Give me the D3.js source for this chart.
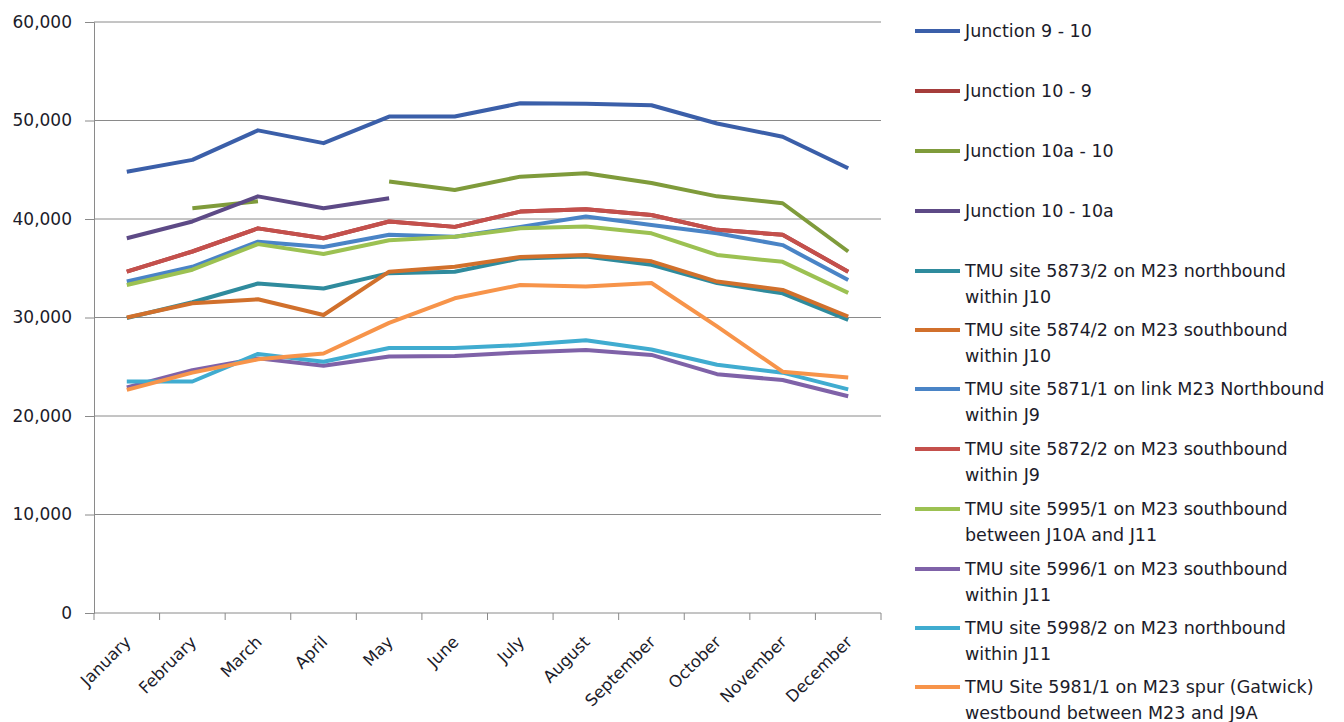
<!DOCTYPE html>
<html>
<head>
<meta charset="utf-8">
<script src="https://cdn.jsdelivr.net/npm/d3@7"></script>
<style>
  html, body { margin: 0; padding: 0; background: #ffffff; }
  svg { display: block; font-family: "DejaVu Sans", "Liberation Sans", Arial, sans-serif; }
</style>
</head>
<body>
<svg id="chart" width="1344" height="722"></svg>
<script>
// Monthly traffic counts around the M23 junctions
const months = ["January", "February", "March", "April", "May", "June",
  "July", "August", "September", "October", "November", "December"];

const yTicks = [0, 10000, 20000, 30000, 40000, 50000, 60000];

const seriesNames = [
  "Junction 9 - 10",
  "Junction 10 - 9",
  "Junction 10a - 10",
  "Junction 10 - 10a",
  "TMU site 5873/2 on M23 northbound within J10",
  "TMU site 5874/2 on M23 southbound within J10",
  "TMU site 5871/1 on link M23 Northbound within J9",
  "TMU site 5872/2 on M23 southbound within J9",
  "TMU site 5995/1 on M23 southbound between J10A and J11",
  "TMU site 5996/1 on M23 southbound within J11",
  "TMU site 5998/2 on M23 northbound within J11",
  "TMU Site 5981/1 on M23 spur (Gatwick) westbound between M23 and J9A"
];

// Legend labels wrap onto two lines
const legendLines = [
  ["Junction 9 - 10"],
  ["Junction 10 - 9"],
  ["Junction 10a - 10"],
  ["Junction 10 - 10a"],
  ["TMU site 5873/2 on M23 northbound", "within J10"],
  ["TMU site 5874/2 on M23 southbound", "within J10"],
  ["TMU site 5871/1 on link M23 Northbound", "within J9"],
  ["TMU site 5872/2 on M23 southbound", "within J9"],
  ["TMU site 5995/1 on M23 southbound", "between J10A and J11"],
  ["TMU site 5996/1 on M23 southbound", "within J11"],
  ["TMU site 5998/2 on M23 northbound", "within J11"],
  ["TMU Site 5981/1 on M23 spur (Gatwick)", "westbound between M23 and J9A"]
];

const seriesColors = ["#3b5fa9", "#a53d3b", "#7f9b3b", "#5d4a86", "#2f8b9d", "#d1702c",
  "#4a84c6", "#c4504c", "#9cc152", "#7f62a8", "#40acd0", "#f7944a"];

const j9to10   = [44800, 46000, 49000, 47700, 50400, 50400, 51750, 51700, 51550, 49700, 48350, 45150];
const j10to9   = [34650, 36700, 39050, 38050, 39750, 39200, 40750, 41000, 40400, 38900, 38400, 34650];
const j10ato10 = [null, 41100, 41800, null, 43800, 42950, 44300, 44650, 43650, 42300, 41600, 36700];
const j10to10a = [38050, 39750, 42300, 41100, 42100, null, null, null, null, null, null, null];
const tmu5873  = [29950, 31550, 33450, 32950, 34500, 34650, 36000, 36200, 35350, 33500, 32450, 29750];
const tmu5874  = [30000, 31450, 31850, 30250, 34650, 35150, 36150, 36350, 35700, 33650, 32800, 30100];
const tmu5871  = [33650, 35150, 37700, 37150, 38400, 38200, 39200, 40250, 39400, 38550, 37350, 33800];
const tmu5872  = [34650, 36700, 39050, 38050, 39750, 39200, 40750, 41000, 40400, 38900, 38400, 34650];
const tmu5995  = [33300, 34850, 37450, 36450, 37850, 38200, 39050, 39250, 38550, 36350, 35650, 32500];
const tmu5996  = [22900, 24650, 25850, 25100, 26050, 26100, 26450, 26700, 26200, 24250, 23650, 22000];
const tmu5998  = [23500, 23500, 26300, 25500, 26900, 26900, 27200, 27700, 26750, 25200, 24400, 22700];
const tmu5981  = [22650, 24400, 25750, 26350, 29450, 31950, 33300, 33150, 33500, 29100, 24500, 23900];

const seriesValues = [j9to10, j10to9, j10ato10, j10to10a, tmu5873, tmu5874,
  tmu5871, tmu5872, tmu5995, tmu5996, tmu5998, tmu5981];

const svg = d3.select("#chart");
const plot = { left: 94, right: 881, top: 22, bottom: 613 };

const x = d3.scaleBand().domain(months).range([plot.left, plot.right]);
const y = d3.scaleLinear().domain([0, 60000]).range([plot.bottom, plot.top]);

// Horizontal gridlines
svg.append("g")
  .selectAll("line")
  .data(yTicks.filter(d => d > 0))
  .join("line")
  .attr("x1", plot.left).attr("x2", plot.right)
  .attr("y1", d => y(d)).attr("y2", d => y(d))
  .attr("stroke", "#8a8a8a").attr("stroke-width", 1);

// Y axis
const yAxis = svg.append("g")
  .attr("transform", `translate(${plot.left},0)`)
  .call(d3.axisLeft(y).tickValues(yTicks).tickSize(9).tickPadding(13)
    .tickFormat(d3.format(",")));
yAxis.select(".domain").attr("stroke", "#8a8a8a");
yAxis.selectAll(".tick line").attr("stroke", "#8a8a8a");
yAxis.selectAll("text").attr("font-size", 17).attr("fill", "#1c1c2a")
  .attr("font-family", "DejaVu Sans");

// X axis with ticks on the category boundaries
const xAxisG = svg.append("g").attr("transform", `translate(0,${plot.bottom})`);
xAxisG.append("line")
  .attr("x1", plot.left).attr("x2", plot.right)
  .attr("stroke", "#8a8a8a");
const boundaries = months.map(m => x(m)).concat([plot.right]);
xAxisG.selectAll("line.tk")
  .data(boundaries)
  .join("line")
  .attr("class", "tk")
  .attr("x1", d => d).attr("x2", d => d)
  .attr("y1", 0).attr("y2", 7)
  .attr("stroke", "#8a8a8a");
xAxisG.selectAll("text")
  .data(months)
  .join("text")
  .attr("transform", d => `translate(${x(d) + x.bandwidth() / 2 + 5},${30}) rotate(-45)`)
  .attr("text-anchor", "end")
  .attr("font-size", 16.5)
  .attr("fill", "#1c1c2a")
  .text(d => d);

// Series lines
const line = d3.line()
  .defined(d => d != null)
  .x((d, i) => x(months[i]) + x.bandwidth() / 2)
  .y(d => y(d));

svg.append("g")
  .selectAll("path")
  .data(seriesValues)
  .join("path")
  .attr("d", d => line(d))
  .attr("fill", "none")
  .attr("stroke", (d, i) => seriesColors[i])
  .attr("stroke-width", 4)
  .attr("stroke-linejoin", "round");

// Legend
const legendTop = [31, 91, 151, 211, 271, 330, 389, 449, 509, 569, 628, 687];
const legend = svg.append("g");
legendLines.forEach((lines, i) => {
  const g = legend.append("g").attr("transform", `translate(915,${legendTop[i]})`);
  g.append("line")
    .attr("x1", 0).attr("x2", 45)
    .attr("stroke", seriesColors[i]).attr("stroke-width", 4);
  lines.forEach((t, j) => {
    g.append("text")
      .attr("x", 50).attr("y", j * 26)
      .attr("dy", "0.35em")
      .attr("font-size", 17.5)
      .attr("fill", "#1c1c2a")
      .text(t);
  });
});
</script>
</body>
</html>
